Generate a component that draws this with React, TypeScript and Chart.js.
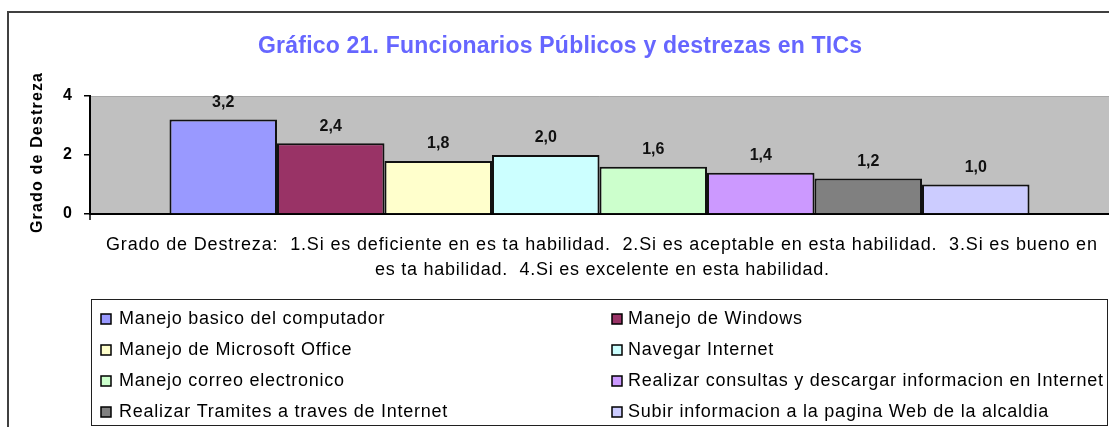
import React, { useEffect, useRef } from "react";
import { Chart, registerables } from "chart.js";

Chart.register(...registerables);

const TITLE = "Gráfico 21. Funcionarios Públicos y destrezas en TICs";
const Y_TITLE = "Grado de Destreza";
const CAPTION_LINES = [
  "Grado de Destreza:  1.Si es deficiente en es ta habilidad.  2.Si es aceptable en esta habilidad.  3.Si es bueno en",
  "es ta habilidad.  4.Si es excelente en esta habilidad.",
];
const SERIES = [
  "Manejo basico del computador",
  "Manejo de Windows",
  "Manejo de Microsoft Office",
  "Navegar Internet",
  "Manejo correo electronico",
  "Realizar consultas y descargar informacion en Internet",
  "Realizar Tramites a traves de Internet",
  "Subir informacion a la pagina Web de la alcaldia",
];
const VALUES = [3.2, 2.4, 1.8, 2.0, 1.6, 1.4, 1.2, 1.0];
const COLORS = ["#9999FF", "#993366", "#FFFFCC", "#CCFFFF", "#CCFFCC", "#CC99FF", "#808080", "#CCCCFF"];
const Y_TICKS = [0, 2, 4];

const FONT = "'Liberation Sans', Arial, sans-serif";

function fitText(ctx: CanvasRenderingContext2D, text: string, x: number, y: number, width: number) {
  (ctx as any).letterSpacing = "0px";
  const w = ctx.measureText(text).width;
  const n = Array.from(text).length;
  const s = n > 1 ? (width - w) / (n - 1) : 0;
  (ctx as any).letterSpacing = s.toFixed(3) + "px";
  ctx.fillText(text, x, y);
  (ctx as any).letterSpacing = "0px";
}

const decorPlugin = {
  id: "decor",
  beforeDraw(chart: any) {
    const { ctx, chartArea } = chart;
    ctx.save();
    ctx.fillStyle = "#FFFFFF";
    ctx.fillRect(0, 0, chart.width, chart.height);
    // outer frame
    ctx.strokeStyle = "#404040";
    ctx.lineWidth = 2;
    ctx.strokeRect(8, 12, chart.width + 20, chart.height + 20);
    // plot background
    ctx.fillStyle = "#C0C0C0";
    ctx.fillRect(chartArea.left, chartArea.top, chartArea.right - chartArea.left, chartArea.bottom - chartArea.top);
    ctx.strokeStyle = "#A8A8A8";
    ctx.lineWidth = 1;
    ctx.beginPath();
    ctx.moveTo(chartArea.left, chartArea.top + 0.5);
    ctx.lineTo(chartArea.right, chartArea.top + 0.5);
    ctx.stroke();
    // title
    ctx.fillStyle = "#6666FF";
    ctx.font = `bold 23px ${FONT}`;
    ctx.textBaseline = "middle";
    ctx.textAlign = "left";
    fitText(ctx, TITLE, 258, 47, 604);
    // y title
    ctx.save();
    ctx.translate(38, 153);
    ctx.rotate(-Math.PI / 2);
    ctx.fillStyle = "#000";
    ctx.font = `bold 16px ${FONT}`;
    fitText(ctx, Y_TITLE, -80, 0, 160);
    ctx.restore();
    ctx.restore();
  },
  afterDraw(chart: any) {
    const { ctx, chartArea } = chart;
    ctx.save();
    // small tick below the axis corner
    ctx.strokeStyle = "#000";
    ctx.lineWidth = 1.5;
    ctx.beginPath();
    ctx.moveTo(chartArea.left, chartArea.bottom);
    ctx.lineTo(chartArea.left, chartArea.bottom + 6);
    ctx.stroke();
    ctx.textBaseline = "middle";
    // value labels
    ctx.fillStyle = "#111";
    ctx.font = `bold 16px ${FONT}`;
    ctx.textAlign = "center";
    chart.data.datasets.forEach((ds: any, i: number) => {
      const meta = chart.getDatasetMeta(i);
      const bar = meta.data[0];
      if (!bar) return;
      const v = ds.data[0] as number;
      ctx.fillText(v.toFixed(1).replace(".", ","), bar.x, bar.y - 17);
    });
    // caption
    ctx.textAlign = "left";
    ctx.fillStyle = "#000";
    ctx.font = `18px ${FONT}`;
    fitText(ctx, CAPTION_LINES[0], 106, 245, 991);
    fitText(ctx, CAPTION_LINES[1], 375, 270, 454);
    // legend box
    ctx.strokeStyle = "#202020";
    ctx.lineWidth = 1;
    ctx.strokeRect(91.5, 299.5, 1016, 126);
    ctx.font = `18px ${FONT}`;
    (ctx as any).letterSpacing = "0px";
    const longest = SERIES[5];
    const baseW = ctx.measureText(longest).width;
    const spacing = (475 - baseW) / (Array.from(longest).length - 1);
    const rows = [319, 350, 381, 412];
    chart.data.datasets.forEach((ds: any, i: number) => {
      const col = i % 2;
      const row = Math.floor(i / 2);
      const y = rows[row];
      const sx = col === 0 ? 101 : 612;
      const tx = col === 0 ? 119 : 628;
      ctx.fillStyle = ds.backgroundColor;
      ctx.fillRect(sx, y - 5, 10, 10);
      ctx.strokeStyle = "#000";
      ctx.lineWidth = 1.5;
      ctx.strokeRect(sx, y - 5, 10, 10);
      ctx.fillStyle = "#000";
      (ctx as any).letterSpacing = spacing.toFixed(3) + "px";
      ctx.fillText(ds.label, tx, y);
      (ctx as any).letterSpacing = "0px";
    });
    ctx.restore();
  },
};

export default function App() {
  const ref = useRef<HTMLCanvasElement>(null);
  useEffect(() => {
    if (!ref.current) return;
    const chart = new Chart(ref.current, {
      type: "bar",
      data: {
        labels: [""],
        datasets: SERIES.map((s, i) => ({
          label: s,
          data: [VALUES[i]],
          backgroundColor: COLORS[i],
          borderColor: "#111111",
          borderWidth: 2,
          categoryPercentage: 0.844,
          barPercentage: 1,
        })),
      },
      options: {
        responsive: false,
        animation: false,
        layout: { padding: { left: 0, right: 0, top: 96, bottom: 0 } },
        plugins: {
          legend: { display: false },
          title: { display: false },
          tooltip: { enabled: false },
        },
        scales: {
          x: {
            type: "category",
            grid: { drawOnChartArea: false, drawTicks: false },
            border: { color: "#000", width: 2 },
            ticks: { display: false },
            afterFit: (s: any) => {
              s.height = 427 - 214;
            },
          },
          y: {
            min: 0,
            max: 4,
            afterBuildTicks: (s: any) => {
              s.ticks = Y_TICKS.map((v) => ({ value: v }));
            },
            grid: { drawOnChartArea: false, drawTicks: true, tickLength: 6, color: "#000", lineWidth: 1.5 },
            border: { color: "#000", width: 2 },
            ticks: {
              color: "#000",
              padding: 12,
              font: { family: FONT, size: 16, weight: "bold" },
            },
            afterFit: (s: any) => {
              s.width = 90;
            },
          },
        },
      },
      plugins: [decorPlugin],
    });
    return () => chart.destroy();
  }, []);
  return (
    <div style={{ position: "absolute", left: 0, top: 0, width: 1109, height: 427 }}>
      <canvas ref={ref} width={1109} height={427} />
    </div>
  );
}
